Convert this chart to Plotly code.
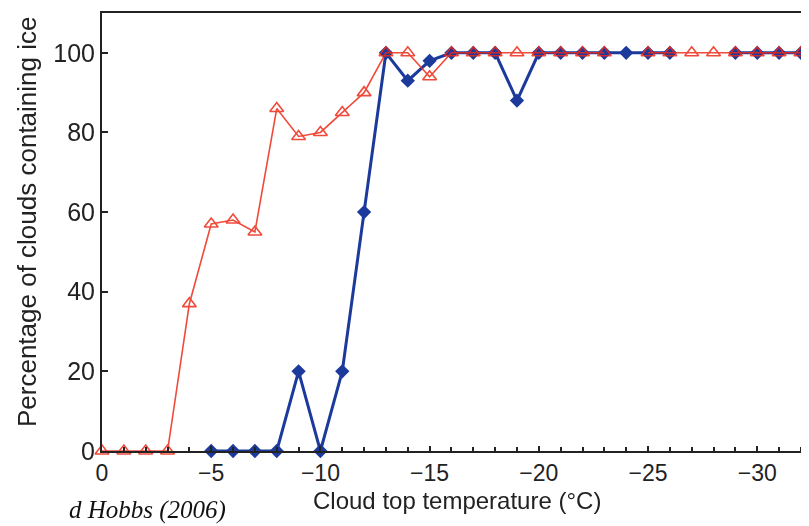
import plotly.graph_objects as go

temps = [0, -1, -2, -3, -4, -5, -6, -7, -8, -9, -10, -11, -12, -13, -14, -15, -16,
         -17, -18, -19, -20, -21, -22, -23, -24, -25, -26, -27, -28, -29, -30, -31, -32]

ice_red = [0, 0, 0, 0, 37, 57, 58, 55, 86, 79, 80, 85, 90, 100, 100, 94, 100,
           100, 100, 100, 100, 100, 100, 100, None, 100, 100, 100, 100, 100, 100, 100, 100]

ice_blue = [None, None, None, None, None, 0, 0, 0, 0, 20, 0, 20, 60, 100, 93, 98, 100,
            100, 100, 88, 100, 100, 100, 100, 100, 100, 100, None, None, 100, 100, 100, 100]

x_ticks = [0, -5, -10, -15, -20, -25, -30]
x_labels = ["0", "\u22125", "\u221210", "\u221215", "\u221220", "\u221225", "\u221230"]
y_ticks = [0, 20, 40, 60, 80, 100]

RED = "#ec2a18"
BLUE = "#1c3a9c"

fig = go.Figure()
fig.add_trace(go.Scatter(
    x=temps, y=ice_blue, mode="lines+markers",
    line=dict(color=BLUE, width=3),
    marker=dict(symbol="diamond", size=11, color=BLUE),
    cliponaxis=False, connectgaps=False, showlegend=False,
))
fig.add_trace(go.Scatter(
    x=temps, y=ice_red, mode="lines+markers",
    line=dict(color=RED, width=1.6),
    marker=dict(symbol="triangle-up-open", size=12, color=RED, line=dict(width=1.6, color=RED)),
    opacity=0.85,
    cliponaxis=False, connectgaps=False, showlegend=False,
))

font_family = "Liberation Sans, Arial, sans-serif"

# The page body adds an 8px offset, so the figure is sized to fill the rest of the window.
fig.update_layout(
    width=801, height=518,
    margin=dict(l=94, r=7, t=5, b=75),
    paper_bgcolor="white", plot_bgcolor="white",
    font=dict(family=font_family, size=24, color="#222"),
    xaxis=dict(
        range=[0, -32.05], showgrid=False, zeroline=False, automargin=False,
        showline=True, linecolor="#222", linewidth=2, mirror=True,
        tickmode="array", tickvals=x_ticks, ticktext=x_labels,
        ticks="inside", ticklen=5, tickwidth=1.5, tickcolor="#222",
        minor=dict(dtick=1, ticks="inside", ticklen=4, tickwidth=1.5, tickcolor="#222"),
        tickfont=dict(size=23),
    ),
    yaxis=dict(
        range=[0, 110], showgrid=False, zeroline=False, automargin=False,
        showline=True, linecolor="#222", linewidth=2, mirror=True,
        tickmode="array", tickvals=y_ticks,
        ticks="inside", ticklen=6, tickwidth=1.5, tickcolor="#222",
        tickfont=dict(size=25),
    ),
    annotations=[
        dict(text="Cloud top temperature (\u00b0C)", xref="paper", yref="paper",
             x=0.507, y=-0.112, xanchor="center", yanchor="middle", showarrow=False,
             font=dict(size=24)),
        dict(text="Percentage of clouds containing ice", xref="paper", yref="paper",
             x=-0.107, y=0.523, xanchor="center", yanchor="middle", showarrow=False,
             textangle=-90, font=dict(size=26)),
        dict(text="<i>d Hobbs (2006)</i>", xref="paper", yref="paper",
             x=-0.05, y=-0.171, xanchor="left", yanchor="bottom", showarrow=False,
             font=dict(family="Liberation Serif, Times New Roman, serif", size=25, color="#111")),
    ],
)

fig.write_html("out.html")
